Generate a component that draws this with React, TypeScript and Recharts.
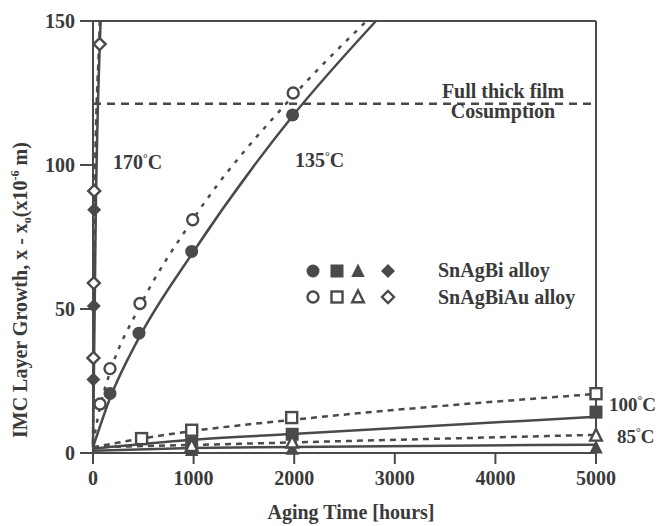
import React from 'react';
import {
  ComposedChart,
  Line,
  Scatter,
  XAxis,
  YAxis,
  ReferenceLine,
} from 'recharts';

interface Pt {
  x: number;
  y: number;
}

// measured layer growth (hours, microns)
const bi170: Pt[] = [{ x: 4, y: 25.5 }, { x: 8, y: 51 }, { x: 12, y: 84.5 }];
const au170: Pt[] = [{ x: 4, y: 33 }, { x: 8, y: 59 }, { x: 12, y: 91 }, { x: 66, y: 142 }];
const bi135: Pt[] = [{ x: 169, y: 20.7 }, { x: 457, y: 41.6 }, { x: 981, y: 70 }, { x: 1984, y: 117.4 }];
const au135: Pt[] = [{ x: 70, y: 17 }, { x: 169, y: 29.3 }, { x: 467, y: 51.9 }, { x: 991, y: 81 }, { x: 1990, y: 125 }];
const bi100: Pt[] = [{ x: 981, y: 3.3 }, { x: 1980, y: 6.5 }, { x: 5000, y: 14.2 }];
const au100: Pt[] = [{ x: 483, y: 5 }, { x: 981, y: 7.9 }, { x: 1975, y: 12.3 }, { x: 5000, y: 20.6 }];
const bi85: Pt[] = [{ x: 981, y: 1 }, { x: 1980, y: 1.5 }, { x: 5000, y: 1.9 }];
const au85: Pt[] = [{ x: 981, y: 2.5 }, { x: 1980, y: 3.7 }, { x: 5000, y: 6.1 }];

// fitted growth curves
const fitBi170: Pt[] = [{ x: 0, y: 2 }, { x: 15, y: 45 }, { x: 30, y: 90 }, { x: 45, y: 115 }, { x: 76, y: 150 }];
const fitAu170: Pt[] = [{ x: 0, y: 3 }, { x: 8, y: 50 }, { x: 20, y: 95 }, { x: 60, y: 142 }, { x: 68, y: 150 }];
const fitBi135: Pt[] = [{ x: 0, y: 2 }, { x: 169, y: 19 }, { x: 457, y: 40 }, { x: 981, y: 69 }, { x: 1984, y: 117 }, { x: 2813, y: 150 }];
const fitAu135: Pt[] = [{ x: 0, y: 3 }, { x: 70, y: 16 }, { x: 169, y: 28 }, { x: 467, y: 51 }, { x: 991, y: 81 }, { x: 1990, y: 124 }, { x: 2720, y: 150 }];
const fitBi100: Pt[] = [{ x: 0, y: 1.5 }, { x: 981, y: 4.6 }, { x: 1980, y: 6.6 }, { x: 5000, y: 12.6 }];
const fitAu100: Pt[] = [{ x: 0, y: 2 }, { x: 483, y: 5 }, { x: 981, y: 7.6 }, { x: 1975, y: 11.5 }, { x: 5000, y: 20.5 }];
const fitBi85: Pt[] = [{ x: 0, y: 0.8 }, { x: 981, y: 1.7 }, { x: 1980, y: 2.1 }, { x: 5000, y: 2.9 }];
const fitAu85: Pt[] = [{ x: 0, y: 2 }, { x: 1461, y: 3.2 }, { x: 2123, y: 3.8 }, { x: 5000, y: 6.3 }];

const FILM_LIMIT = 121.3;
const xTicks = [0, 1000, 2000, 3000, 4000, 5000];
const yTicks = [0, 50, 100, 150];

const INK = '#4a4a4a';
const TEXT = '#3a3a3a';
const FONT = '"Liberation Serif", "DejaVu Serif", serif';

type Kind = 'circle' | 'square' | 'triangle' | 'diamond';

const Marker = ({ cx, cy, kind, filled }: { cx: number; cy: number; kind: Kind; filled: boolean }) => {
  const fill = filled ? INK : '#fff';
  const sw = filled ? 0 : 2.4;
  const r = filled ? 6.5 : 5.5;
  if (kind === 'circle') return <circle cx={cx} cy={cy} r={r} fill={fill} stroke={INK} strokeWidth={sw} />;
  if (kind === 'square')
    return <rect x={cx - r} y={cy - r} width={2 * r} height={2 * r} fill={fill} stroke={INK} strokeWidth={sw} />;
  if (kind === 'triangle') {
    const h = filled ? 7.5 : 6.5;
    return (
      <polygon
        points={`${cx},${cy - h} ${cx + h * 0.9},${cy + h * 0.8} ${cx - h * 0.9},${cy + h * 0.8}`}
        fill={fill}
        stroke={INK}
        strokeWidth={sw}
      />
    );
  }
  const d = filled ? 7 : 6;
  return (
    <polygon
      points={`${cx},${cy - d} ${cx + d},${cy} ${cx},${cy + d} ${cx - d},${cy}`}
      fill={fill}
      stroke={INK}
      strokeWidth={sw}
    />
  );
};

const shapeOf = (kind: Kind, filled: boolean) => (p: any) => (
  <Marker cx={p.cx} cy={p.cy} kind={kind} filled={filled} />
);

const tickStyle = { fill: TEXT, fontSize: 20, fontWeight: 'bold', fontFamily: FONT };

// temperature label with a small raised degree sign
const Temp = ({ x, y, value, style }: { x: number; y: number; value: string; style: any }) => (
  <text x={x} y={y} {...style}>
    {value}
    <tspan fontSize={12} dy={-7}>°</tspan>
    <tspan dy={7}>C</tspan>
  </text>
);

const Annotations = () => {
  const t = { fill: TEXT, fontSize: 20, fontWeight: 'bold' as const, fontFamily: FONT };
  const legendKinds: Kind[] = ['circle', 'square', 'triangle', 'diamond'];
  const legendX = [313, 337, 358, 388];
  return (
    <svg width={659} height={526} style={{ position: 'absolute', left: 0, top: 0, pointerEvents: 'none' }}>
      <Temp x={113} y={169} value="170" style={t} />
      <Temp x={295} y={167} value="135" style={t} />
      <text x={503} y={98} textAnchor="middle" {...t}>Full thick film</text>
      <text x={503} y={118} textAnchor="middle" {...t}>Cosumption</text>
      <Temp x={609} y={411} value="100" style={{ ...t, fontSize: 19 }} />
      <Temp x={617} y={443} value="85" style={{ ...t, fontSize: 19 }} />

      {legendKinds.map((k, i) => (
        <Marker key={`f-${k}`} cx={legendX[i]} cy={271} kind={k} filled />
      ))}
      {legendKinds.map((k, i) => (
        <Marker key={`o-${k}`} cx={legendX[i]} cy={297} kind={k} filled={false} />
      ))}
      <text x={438} y={277} {...t}>SnAgBi alloy</text>
      <text x={438} y={304} {...t}>SnAgBiAu alloy</text>

      <text x={351} y={519} textAnchor="middle" {...t}>Aging Time [hours]</text>
      <text transform="translate(27,438) rotate(-90)" {...t}>
        IMC Layer Growth, x - x<tspan fontSize={12} dy={4}>o</tspan>
        <tspan dy={-4}>(x10</tspan>
        <tspan fontSize={12} dy={-8}>-6</tspan>
        <tspan dy={8}> m)</tspan>
      </text>
    </svg>
  );
};

export default function App() {
  const solid = { stroke: INK, strokeWidth: 2.5, dot: false, isAnimationActive: false, type: 'monotone' as const };
  const dashed = { ...solid, strokeDasharray: '6 5' };
  return (
    <div style={{ position: 'absolute', left: 0, top: 0, width: 659, height: 526, background: '#fff' }}>
      <ComposedChart width={659} height={526} margin={{ top: 21, right: 63, bottom: 13, left: 0 }}>
        <XAxis
          type="number"
          dataKey="x"
          domain={[0, 5000]}
          ticks={xTicks}
          height={60}
          tick={tickStyle}
          tickSize={11}
          tickMargin={7}
          stroke={INK}
          strokeWidth={2}
          tickLine={{ stroke: INK, strokeWidth: 2 }}
        />
        <YAxis
          type="number"
          dataKey="y"
          domain={[0, 150]}
          ticks={yTicks}
          width={93}
          tick={tickStyle}
          tickSize={13}
          tickMargin={5}
          stroke={INK}
          strokeWidth={2}
          tickLine={{ stroke: INK, strokeWidth: 2 }}
        />
        <ReferenceLine y={150} stroke={INK} strokeWidth={2} />
        <ReferenceLine x={5000} stroke={INK} strokeWidth={2} />
        <ReferenceLine y={FILM_LIMIT} stroke={INK} strokeWidth={2.5} strokeDasharray="8 6" />

        <Line data={fitBi170} dataKey="y" {...solid} />
        <Line data={fitAu170} dataKey="y" {...dashed} />
        <Line data={fitBi135} dataKey="y" {...solid} />
        <Line data={fitAu135} dataKey="y" {...dashed} strokeDasharray="4 7" />
        <Line data={fitBi100} dataKey="y" {...solid} />
        <Line data={fitAu100} dataKey="y" {...dashed} />
        <Line data={fitBi85} dataKey="y" {...solid} />
        <Line data={fitAu85} dataKey="y" {...dashed} />

        <Scatter data={bi170} dataKey="y" shape={shapeOf('diamond', true)} isAnimationActive={false} />
        <Scatter data={au170} dataKey="y" shape={shapeOf('diamond', false)} isAnimationActive={false} />
        <Scatter data={bi135} dataKey="y" shape={shapeOf('circle', true)} isAnimationActive={false} />
        <Scatter data={au135} dataKey="y" shape={shapeOf('circle', false)} isAnimationActive={false} />
        <Scatter data={bi100} dataKey="y" shape={shapeOf('square', true)} isAnimationActive={false} />
        <Scatter data={au100} dataKey="y" shape={shapeOf('square', false)} isAnimationActive={false} />
        <Scatter data={bi85} dataKey="y" shape={shapeOf('triangle', true)} isAnimationActive={false} />
        <Scatter data={au85} dataKey="y" shape={shapeOf('triangle', false)} isAnimationActive={false} />
      </ComposedChart>
      <Annotations />
    </div>
  );
}
